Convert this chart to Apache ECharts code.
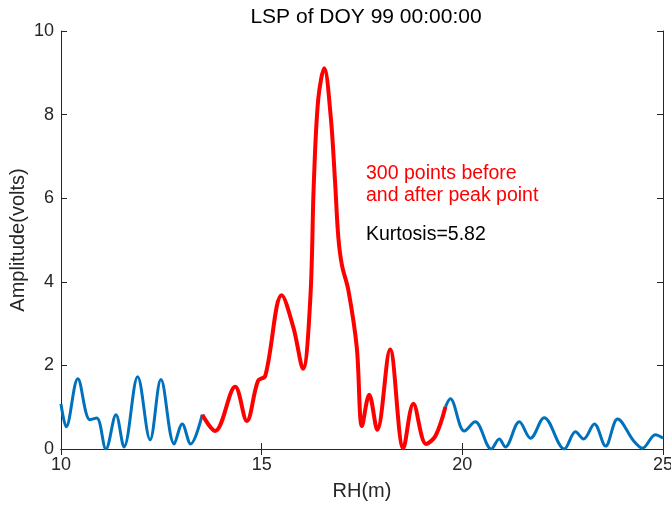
<!DOCTYPE html>
<html>
<head>
<meta charset="utf-8">
<script src="https://cdn.jsdelivr.net/npm/echarts@6/dist/echarts.min.js"></script>
<style>
  html, body { margin: 0; padding: 0; background: #fff; }
  #main { width: 671px; height: 508px; }
</style>
</head>
<body>
<div id="main"></div>
<script>
// LSP amplitude vs reflector height
var blueLeft = [
  [10.0, 1.08], [10.13, 0.53], [10.42, 1.68], [10.72, 0.70], [10.89, 0.74],
  [11.12, 0.0], [11.37, 0.82], [11.57, 0.05], [11.91, 1.73], [12.22, 0.22],
  [12.49, 1.66], [12.82, 0.12], [13.02, 0.60], [13.23, 0.12], [13.52, 0.82]
];
var redPeak = [
  [13.52, 0.82], [13.84, 0.43], [14.34, 1.49], [14.63, 0.67], [14.91, 1.63],
  [15.09, 1.75], [15.50, 3.68], [15.79, 2.91], [16.03, 1.92], [16.21, 3.56],
  [16.30, 6.37], [16.41, 8.37], [16.56, 9.11], [16.72, 7.96], [16.83, 6.37],
  [16.91, 5.07], [17.0, 4.40], [17.16, 3.80], [17.37, 2.43], [17.50, 0.55],
  [17.68, 1.30], [17.88, 0.46], [18.20, 2.38], [18.53, 0.02], [18.78, 1.08],
  [19.10, 0.12], [19.33, 0.31], [19.58, 1.01]
];
var blueRight = [
  [19.58, 1.01], [19.70, 1.20], [20.05, 0.43], [20.32, 0.65], [20.72, 0.0],
  [20.92, 0.24], [21.07, 0.05], [21.42, 0.65], [21.70, 0.26], [22.04, 0.75],
  [22.54, 0.0], [22.82, 0.41], [23.02, 0.24], [23.29, 0.60], [23.57, 0.07],
  [23.87, 0.72], [24.27, 0.19], [24.49, 0.02], [24.81, 0.34], [25.0, 0.26]
];

var chart = echarts.init(document.getElementById('main'));
var font = "'Liberation Sans', Arial, sans-serif";
var axisCol = '#262626';

var option = {
  animation: false,
  textStyle: { fontFamily: font },
  title: {
    text: 'LSP of DOY 99 00:00:00',
    left: 361, top: 2, textAlign: 'center',
    textStyle: { fontSize: 21, fontWeight: 'normal', color: '#000', fontFamily: font }
  },
  grid: { left: 61, right: 8, top: 31, bottom: 59, containLabel: false, outerBoundsMode: 'none' },
  xAxis: [{
    type: 'value', min: 10, max: 25, interval: 5,
    name: 'RH(m)', nameLocation: 'middle', nameGap: 32, nameMoveOverlap: false,
    nameTextStyle: { fontSize: 20, color: axisCol },
    axisLine: { lineStyle: { color: axisCol, width: 1 } },
    axisTick: { inside: true, length: 6, lineStyle: { color: axisCol } },
    axisLabel: { fontSize: 18, color: axisCol, margin: 7 },
    splitLine: { show: false }
  }, {
    type: 'value', min: 10, max: 25, interval: 5, position: 'top',
    axisLine: { show: true, lineStyle: { color: axisCol, width: 1 } },
    axisTick: { inside: true, length: 6, lineStyle: { color: axisCol } },
    axisLabel: { show: false },
    splitLine: { show: false }
  }],
  yAxis: [{
    type: 'value', min: 0, max: 10, interval: 2,
    name: 'Amplitude(volts)', nameLocation: 'middle', nameGap: 33, nameRotate: 90,
    nameMoveOverlap: false,
    nameTextStyle: { fontSize: 20, color: axisCol },
    axisLine: { show: true, lineStyle: { color: axisCol, width: 1 } },
    axisTick: { show: true, inside: true, length: 6, lineStyle: { color: axisCol } },
    axisLabel: { fontSize: 18, color: axisCol, margin: 7 },
    splitLine: { show: false }
  }, {
    type: 'value', min: 0, max: 10, interval: 2, position: 'right',
    axisLine: { show: true, lineStyle: { color: axisCol, width: 1 } },
    axisTick: { show: true, inside: true, length: 6, lineStyle: { color: axisCol } },
    axisLabel: { show: false },
    splitLine: { show: false }
  }],
  series: [
    { type: 'line', data: blueLeft, smooth: 0.35, showSymbol: false,
      lineStyle: { color: '#0072BD', width: 3 } },
    { type: 'line', data: blueRight, smooth: 0.35, showSymbol: false,
      lineStyle: { color: '#0072BD', width: 3 } },
    { type: 'line', data: redPeak, smooth: 0.35, showSymbol: false,
      lineStyle: { color: '#FF0000', width: 4 } }
  ],
  graphic: [
    { type: 'text', x: 366, y: 174,
      style: { text: '300 points before', fill: '#FF0000', fontSize: 19.5,
               fontFamily: font, verticalAlign: 'middle' } },
    { type: 'text', x: 366, y: 196,
      style: { text: 'and after peak point', fill: '#FF0000', fontSize: 19.5,
               fontFamily: font, verticalAlign: 'middle' } },
    { type: 'text', x: 366, y: 235,
      style: { text: 'Kurtosis=5.82', fill: '#000', fontSize: 19.5,
               fontFamily: font, verticalAlign: 'middle' } }
  ]
};
chart.setOption(option);
</script>
</body>
</html>
